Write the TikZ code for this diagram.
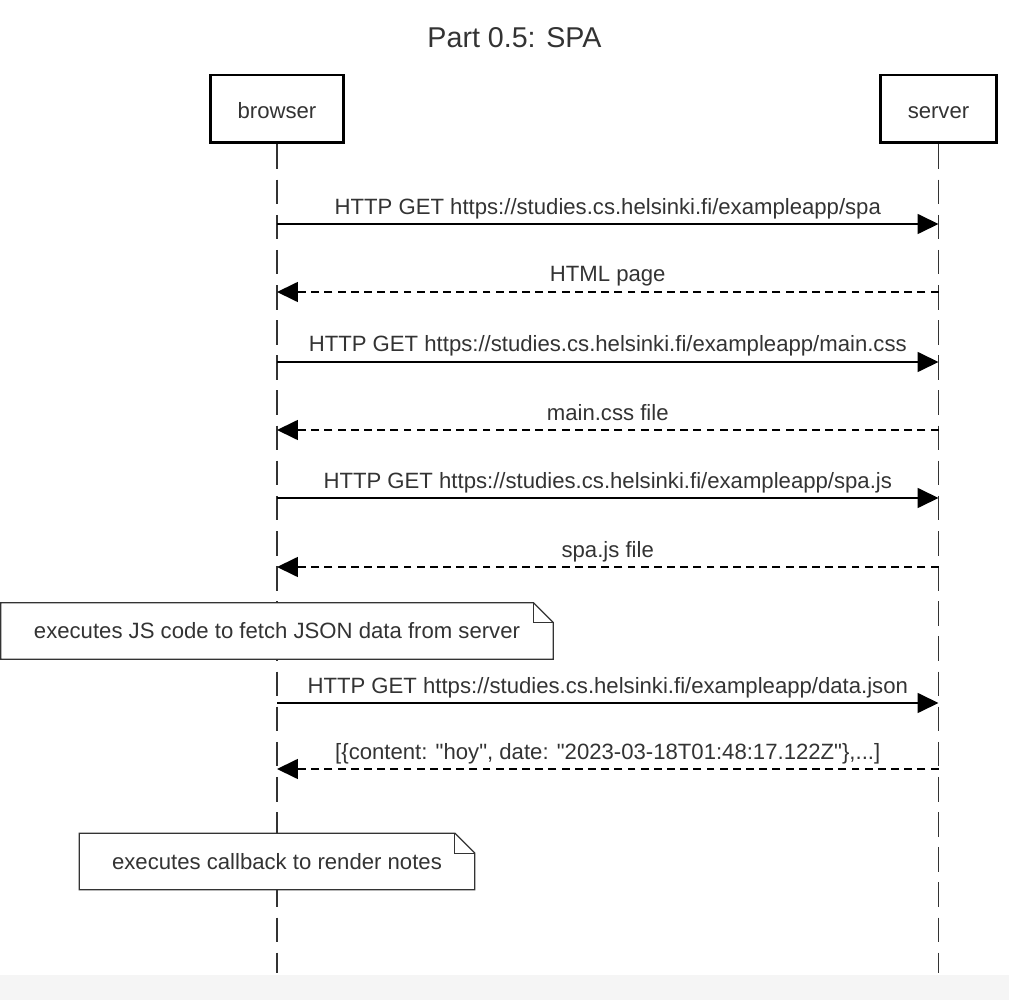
\documentclass[tikz,border=0pt]{standalone}
\usepackage{fontspec}
\setmainfont{Liberation Sans}
\usepackage[usenames]{xcolor}
\usepackage{tikz}
\usetikzlibrary{arrows.meta,calc}
\definecolor{ink}{HTML}{333333}
\definecolor{band}{HTML}{F5F5F5}

\begin{document}
\begin{tikzpicture}[line cap=butt,line join=miter,x=0.02cm,y=-0.02cm,
  actor/.style={draw=black,line width=1.7pt,fill=white,minimum height=1.36cm,text height=1.55em,text depth=0.42em,text=ink,font=\fontsize{12.6}{14}\selectfont},
  life/.style={draw=ink,line width=0.9pt,dash pattern=on 14pt off 6pt},
  call/.style={draw=black,line width=1pt,-{Triangle[length=0.42cm,width=0.4cm]}},
  reply/.style={call,dash pattern=on 4.5pt off 3pt},
  lbl/.style={midway,anchor=base,yshift=0.2cm,inner sep=0pt,text=ink,font=\fontsize{12.6}{14}\selectfont},
  note/.style={fill=white,minimum height=1.12cm,text=ink,font=\fontsize{12.6}{14}\selectfont}]
\useasboundingbox (0,0) rectangle (1009,1000);
\fill[band] (0,975) rectangle (1009,1000);
% title
\node[anchor=base,text=ink,font=\fontsize{16.3}{19}\selectfont] (title) at (514.5,48) {Part 0.5: SPA};
% participants
\node[actor,minimum width=2.68cm] (browser) at (277,109) {browser};
\node[actor,minimum width=2.34cm] (server) at (938.5,109) {server};
\coordinate (bend) at (277,973);
\coordinate (send) at (938.5,973);
\draw[life] (browser.south) -- (bend);
\draw[life] (server.south) -- (send);
% message points
\foreach \i/\y in {1/224,2/292,3/362,4/430,5/498,6/567,7/703,8/769}{
  \coordinate (b\i) at (277,\y);
  \coordinate (s\i) at (938.5,\y);
}
\draw[call] (b1) -- node[lbl] {HTTP GET https://studies.cs.helsinki.fi/exampleapp/spa} (s1);
\draw[reply] (s2) -- node[lbl] {HTML page} (b2);
\draw[call] (b3) -- node[lbl] {HTTP GET https://studies.cs.helsinki.fi/exampleapp/main.css} (s3);
\draw[reply] (s4) -- node[lbl] {main.css file} (b4);
\draw[call] (b5) -- node[lbl] {HTTP GET https://studies.cs.helsinki.fi/exampleapp/spa.js} (s5);
\draw[reply] (s6) -- node[lbl] {spa.js file} (b6);
\draw[call] (b7) -- node[lbl] {HTTP GET https://studies.cs.helsinki.fi/exampleapp/data.json} (s7);
\draw[reply] (s8) -- node[lbl] {[\{content: \textquotedbl hoy\textquotedbl, date: \textquotedbl 2023-03-18T01:48:17.122Z\textquotedbl\},...]} (b8);
% notes
\node[note,minimum width=11.04cm] (jsnote) at (277,631) {executes JS code to fetch JSON data from server};
\node[note,minimum width=7.9cm] (cbnote) at (277,861.5) {executes callback to render notes};
\foreach \n in {jsnote,cbnote}{
  \draw[ink,line width=0.7pt] (\n.north west) -- ($(\n.north east)+(-20,0)$) -- ($(\n.north east)+(0,20)$) -- (\n.south east) -- (\n.south west) -- cycle;
  \draw[ink,line width=0.7pt] ($(\n.north east)+(-20,0)$) |- ($(\n.north east)+(0,20)$);
}
\end{tikzpicture}
\end{document}
